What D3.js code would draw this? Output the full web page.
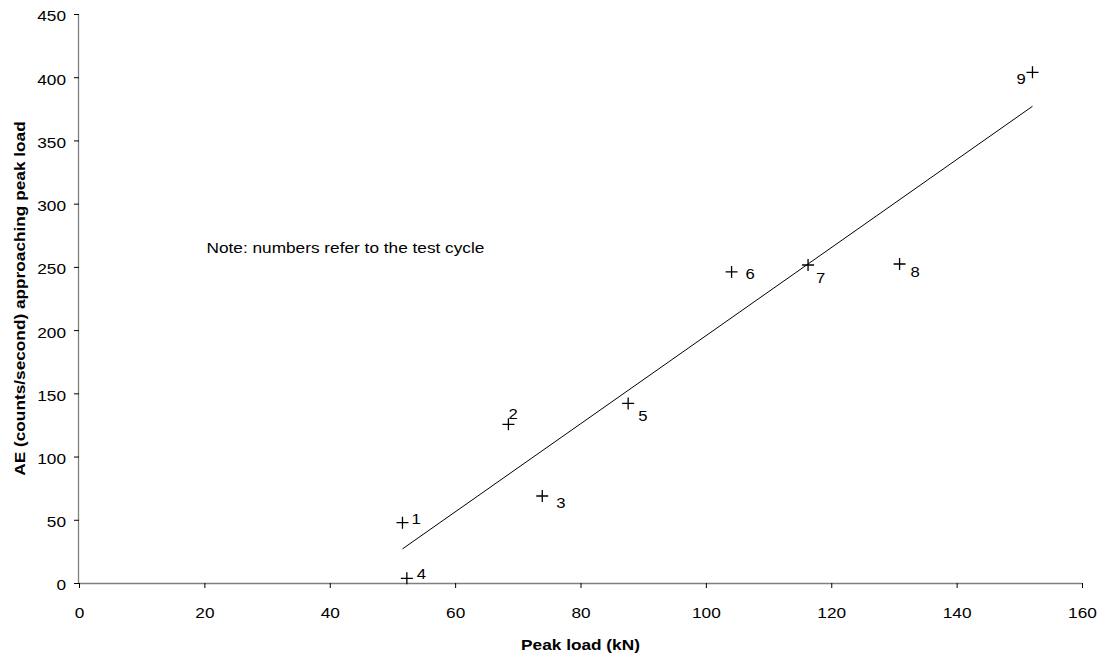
<!DOCTYPE html>
<html>
<head>
<meta charset="utf-8">
<script src="https://cdn.jsdelivr.net/npm/d3@7"></script>
<style>
  html, body { margin: 0; padding: 0; background: #fff; }
  svg { display: block; font-family: "Liberation Sans", Arial, sans-serif; }
</style>
</head>
<body>
<svg id="chart" width="1102" height="657"></svg>
<script>
// ---- data ----
const cycles = ["1", "2", "3", "4", "5", "6", "7", "8", "9"];
const peakLoad = [51.6, 68.5, 73.9, 52.3, 87.6, 104.1, 116.3, 130.9, 152.1];
const aeRate = [47.7, 125.5, 68.8, 3.7, 142, 246, 251.5, 252.3, 403.9];
const xTicks = [0, 20, 40, 60, 80, 100, 120, 140, 160];
const yTicks = [0, 50, 100, 150, 200, 250, 300, 350, 400, 450];
const xTitle = "Peak load (kN)";
const yTitle = "AE (counts/second) approaching peak load";
const noteText = "Note: numbers refer to the test cycle";

// label placement (layout, pixels relative to marker)
const labelDx = [9, 0, 14, 10, 10, 14, 8, 11, -16];
const labelDy = [1, -5, 12, 1, 18, 7, 18, 13, 12];

// ---- layout ----
const svg = d3.select("#chart");
const m = { left: 79, right: 1082, top: 14, bottom: 583 };
const SX = 1.15; // horizontal text stretch to match reference rendering

const x = d3.scaleLinear().domain([0, 160]).range([m.left, m.right]);
const y = d3.scaleLinear().domain([0, 450]).range([m.bottom, m.top]);

const axisColor = "#808080";

function stretch(sel) {
  // scale text along its direction about its anchor point
  sel.each(function () {
    const t = d3.select(this);
    const tx = +t.attr("x") || 0, ty = +t.attr("y") || 0;
    const prev = t.attr("transform") || "";
    t.attr("transform", `${prev} translate(${tx},${ty}) scale(${SX},1) translate(${-tx},${-ty})`);
  });
}

// x axis
const gx = svg.append("g").attr("transform", `translate(0,${m.bottom})`)
  .call(d3.axisBottom(x).tickValues(xTicks).tickSize(5).tickPadding(19).tickFormat(d3.format("d")));
gx.select(".domain").attr("stroke", axisColor).attr("stroke-width", 1.3)
  .attr("d", `M${m.left},0.5H${m.right}`);
gx.selectAll(".tick line").attr("stroke", "#000");
gx.selectAll(".tick text").attr("font-size", 15).attr("fill", "#000")
  .attr("font-family", "Liberation Sans, Arial, sans-serif").call(stretch);

// y axis
const gy = svg.append("g").attr("transform", `translate(${m.left},0)`)
  .call(d3.axisLeft(y).tickValues(yTicks).tickSize(5).tickPadding(8).tickFormat(d3.format("d")));
gy.select(".domain").attr("stroke", axisColor).attr("stroke-width", 1.3)
  .attr("d", `M-0.5,${m.bottom}V${m.top}`);
gy.selectAll(".tick line").attr("stroke", "#000");
gy.selectAll(".tick text").attr("font-size", 15).attr("fill", "#000").attr("dy", "0.46em")
  .attr("font-family", "Liberation Sans, Arial, sans-serif").call(stretch);

// regression trendline
const n = peakLoad.length;
const mx = d3.mean(peakLoad), my = d3.mean(aeRate);
let sxy = 0, sxx = 0;
for (let i = 0; i < n; i++) {
  sxy += (peakLoad[i] - mx) * (aeRate[i] - my);
  sxx += (peakLoad[i] - mx) ** 2;
}
const slope = sxy / sxx, intercept = my - slope * mx;
const [xmin, xmax] = d3.extent(peakLoad);
svg.append("line")
  .attr("x1", x(xmin)).attr("y1", y(intercept + slope * xmin))
  .attr("x2", x(xmax)).attr("y2", y(intercept + slope * xmax))
  .attr("stroke", "#000").attr("stroke-width", 1);

// markers (+)
const pts = cycles.map((c, i) => ({ c, x: peakLoad[i], y: aeRate[i], dx: labelDx[i], dy: labelDy[i] }));
const s = 6;
const mk = svg.append("g");
pts.forEach(p => {
  const cx = x(p.x), cy = y(p.y);
  mk.append("path")
    .attr("d", `M${cx - s},${cy}H${cx + s}M${cx},${cy - s}V${cy + s}`)
    .attr("stroke", "#000").attr("stroke-width", 1.3).attr("fill", "none");
  mk.append("text")
    .attr("x", cx + p.dx).attr("y", cy + p.dy)
    .attr("font-size", 14.5).attr("fill", "#000")
    .text(p.c).call(stretch);
});

// note
svg.append("text").attr("x", 206.5).attr("y", 253)
  .attr("font-size", 15).attr("fill", "#000").text(noteText).call(stretch);

// axis titles
svg.append("text").attr("x", (m.left + m.right) / 2).attr("y", 650)
  .attr("text-anchor", "middle").attr("font-size", 15).attr("font-weight", "bold")
  .text(xTitle).call(stretch);
svg.append("text")
  .attr("transform", `translate(25,${(m.top + m.bottom) / 2}) rotate(-90) scale(${SX},1)`)
  .attr("text-anchor", "middle").attr("font-size", 15).attr("font-weight", "bold")
  .text(yTitle);
</script>
</body>
</html>
